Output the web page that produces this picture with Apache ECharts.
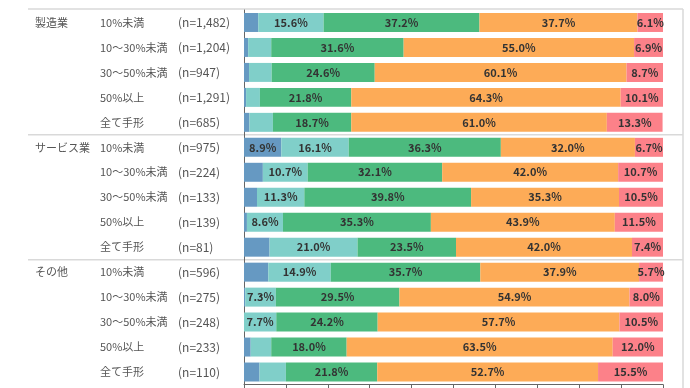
<!DOCTYPE html>
<html><head><meta charset="utf-8">
<script src="https://cdn.jsdelivr.net/npm/echarts@6/dist/echarts.min.js"></script>
<style>html,body{margin:0;padding:0;background:#fff}#c{width:690px;height:388px}</style>
</head><body><div id="c"></div>
<script>
const groups = ['製造業','','','','','サービス業','','','','','その他','','','',''];
const subcats = ['10%未満','10～30%未満','30～50%未満','50%以上','全て手形','10%未満','10～30%未満','30～50%未満','50%以上','全て手形','10%未満','10～30%未満','30～50%未満','50%以上','全て手形'];
const counts = ['(n=1,482)','(n=1,204)','(n=947)','(n=1,291)','(n=685)','(n=975)','(n=224)','(n=133)','(n=139)','(n=81)','(n=596)','(n=275)','(n=248)','(n=233)','(n=110)'];
const s1 = [3.4,1.0,1.2,0.5,1.3, 8.9,4.5,3.1,0.7,6.1, 5.8,0.3,0.0,1.6,3.7];
const s2 = [15.6,5.5,5.4,3.3,5.6, 16.1,10.7,11.3,8.6,21.0, 14.9,7.3,7.7,4.9,6.3];
const s3 = [37.2,31.6,24.6,21.8,18.7, 36.3,32.1,39.8,35.3,23.5, 35.7,29.5,24.2,18.0,21.8];
const s4 = [37.7,55.0,60.1,64.3,61.0, 32.0,42.0,35.3,43.9,42.0, 37.9,54.9,57.7,63.5,52.7];
const s5 = [6.1,6.9,8.7,10.1,13.3, 6.7,10.7,10.5,11.5,7.4, 5.7,8.0,10.5,12.0,15.5];
// which values carry a printed label (1 = printed)
const lab1 = [0,0,0,0,0, 1,0,0,0,0, 0,0,0,0,0];
const lab2 = [1,0,0,0,0, 1,1,1,1,1, 1,1,1,0,0];
const lab3 = [1,1,1,1,1, 1,1,1,1,1, 1,1,1,1,1];
const lab4 = [1,1,1,1,1, 1,1,1,1,1, 1,1,1,1,1];
const lab5 = [1,1,1,1,1, 1,1,1,1,1, 1,1,1,1,1];
const seriesNames = ['区分1','区分2','区分3','区分4','区分5'];
const colors = ['#6699c2','#80cfc9','#4cba7e','#fdab57','#fc8189'];

const chart = echarts.init(document.getElementById('c'));
const FONT = '"Noto Sans CJK JP","Noto Sans",sans-serif';
const vals = [s1,s2,s3,s4,s5], labs=[lab1,lab2,lab3,lab4,lab5];
const series = vals.map((arr,i)=>({
  name: seriesNames[i], type:'bar', stack:'t', barCategoryGap:'24%',
  itemStyle:{color:colors[i]},
  label:{show:true, position:'inside', color:'#333', fontWeight:'bold', fontSize:11, fontFamily:FONT,
    formatter:p=>p.value.toFixed(1)+'%'},
  data: arr.map((v,j)=>({value:v, label:{show:!!labs[i][j]}}))
}));
const grid = {left:244, right:27, top:10, bottom:3.5};
chart.setOption({
  animation:false,
  grid: grid,
  xAxis:{type:'value', min:0, max:100, interval:10, position:'bottom',
    axisLine:{show:true, lineStyle:{color:'#666'}},
    axisTick:{show:true, inside:false, length:5, lineStyle:{color:'#666'}},
    axisLabel:{show:false}, splitLine:{show:false}},
  yAxis:[{type:'category', inverse:true, data:subcats.map((s,i)=>s+'|'+counts[i]),
    axisLine:{show:true, lineStyle:{color:'#666'}}, axisTick:{show:false},
    axisLabel:{align:'left', margin:144, fontFamily:FONT, color:'#555',
      formatter:v=>{const p=v.split('|'); return '{a|'+p[0]+'}{b|'+p[1]+'}';},
      rich:{a:{width:78, fontSize:11, fontFamily:FONT, color:'#555'},
            b:{fontSize:12, fontFamily:FONT, color:'#555'}}}},
   {type:'category', inverse:true, data:groups, position:'left',
    axisLine:{show:false}, axisTick:{show:false},
    axisLabel:{align:'left', margin:209, fontSize:11, fontFamily:FONT, color:'#555'}}],
  series: series
});
// frame and group separator lines derived from the category scale
const yTop = chart.convertToPixel({yAxisIndex:0}, subcats[0]+'|'+counts[0]);
const y5 = chart.convertToPixel({yAxisIndex:0}, subcats[4]+'|'+counts[4]);
const y6 = chart.convertToPixel({yAxisIndex:0}, subcats[5]+'|'+counts[5]);
const y10 = chart.convertToPixel({yAxisIndex:0}, subcats[9]+'|'+counts[9]);
const y11 = chart.convertToPixel({yAxisIndex:0}, subcats[10]+'|'+counts[10]);
const step = y6 - y5;
const L = 28, R = 683;
const ln = (x1,y1,x2,y2)=>({type:'line', shape:{x1,y1,x2,y2}, style:{stroke:'#d9d9d9', lineWidth:1.5}, silent:true});
chart.setOption({graphic:[
  ln(L, yTop-step/2-1, R, yTop-step/2-1),
  ln(R, yTop-step/2-1, R, 388),
  ln(L, (y5+y6)/2, R, (y5+y6)/2),
  ln(L, (y10+y11)/2, R, (y10+y11)/2)
]});
</script></body></html>
